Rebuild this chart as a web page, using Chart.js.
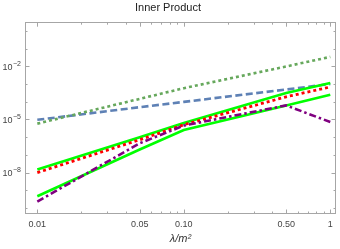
<!DOCTYPE html>
<html>
<head>
<meta charset="utf-8">
<script src="https://cdn.jsdelivr.net/npm/chart.js@4/dist/chart.umd.min.js"></script>
<style>
html, body { margin: 0; padding: 0; background: #fff; }
#wrap { width: 340px; height: 249px; }
</style>
</head>
<body>
<div id="wrap"><canvas id="inner-chart"></canvas></div>
<script>
// Data
var lambdas = [0.01, 0.05, 0.1, 0.5, 1];
var purpleDashDot = [2.3e-10, 4.5e-7, 4.5e-6, 6.2e-5, 7.1e-6];
var redDotted = [1.0e-8, 7.1e-7, 5.0e-6, 1.9e-4, 6.8e-4];
var greenUpper = [1.5e-8, 1.0e-6, 6.2e-6, 3.1e-4, 1.15e-3];
var greenLower = [4.6e-10, 2.0e-7, 2.5e-6, 6.2e-5, 2.5e-4];
var greenDotted = [5.8e-6, 1.45e-4, 5.8e-4, 9.8e-3, 3.4e-2];
var blueDashed = [9.5e-6, 4.9e-5, 9.8e-5, 4.9e-4, 1.0e-3];

// Ticks
var xMajorTicks = [0.01, 0.05, 0.1, 0.5, 1];
var xTickLabels = ["0.01", "0.05", "0.10", "0.50", "1"];
var xMinorTicks = [0.02, 0.03, 0.04, 0.06, 0.07, 0.08, 0.09, 0.2, 0.3, 0.4, 0.6, 0.7, 0.8, 0.9];
var yTickValues = [1, 1e-1, 1e-2, 1e-3, 1e-4, 1e-5, 1e-6, 1e-7, 1e-8, 1e-9, 1e-10];
var yLabelledTicks = [1e-2, 1e-5, 1e-8];
var yTickExponents = ["\u22122", "\u22125", "\u22128"];

function pts(ys) {
  return lambdas.map(function (x, i) { return { x: x, y: ys[i] }; });
}

function findLabel(values, labels, v) {
  for (var i = 0; i < values.length; i++) {
    if (Math.abs(Math.log10(values[i]) - Math.log10(v)) < 1e-6) return labels[i];
  }
  return "";
}

var fontFamily = "'Liberation Sans', Arial, 'DejaVu Sans', sans-serif";

// frame with inward ticks on all four sides, plus 10^n labels with a real raised exponent
var frameTicks = {
  id: "frameTicks",
  afterDraw: function (chart) {
    var ctx = chart.ctx, a = chart.chartArea;
    var xs = chart.scales.x, ys = chart.scales.y;
    ctx.save();
    ctx.strokeStyle = "#a6a6a6";
    ctx.lineWidth = 1;
    ctx.strokeRect(Math.round(a.left) + 0.5, Math.round(a.top) + 0.5,
      Math.round(a.right) - Math.round(a.left) - 1, Math.round(a.bottom) - Math.round(a.top) - 1);
    ctx.beginPath();
    function xTick(v, len) {
      var px = Math.round(xs.getPixelForValue(v)) + 0.5;
      ctx.moveTo(px, a.bottom); ctx.lineTo(px, a.bottom - len);
      ctx.moveTo(px, a.top); ctx.lineTo(px, a.top + len);
    }
    function yTick(v, len) {
      var py = Math.round(ys.getPixelForValue(v)) + 0.5;
      ctx.moveTo(a.left, py); ctx.lineTo(a.left + len, py);
      ctx.moveTo(a.right, py); ctx.lineTo(a.right - len, py);
    }
    xMajorTicks.forEach(function (v) { xTick(v, 4.5); });
    xMinorTicks.forEach(function (v) { xTick(v, 2.5); });
    yTickValues.forEach(function (v) {
      yTick(v, yLabelledTicks.indexOf(v) >= 0 ? 4.5 : 2.5);
    });
    ctx.stroke();

    ctx.fillStyle = "#444";
    ctx.textAlign = "right";
    ctx.textBaseline = "middle";
    yLabelledTicks.forEach(function (v, i) {
      var py = ys.getPixelForValue(v);
      var xr = a.left - 4;
      ctx.font = "7px " + fontFamily;
      var wExp = ctx.measureText(yTickExponents[i]).width;
      ctx.fillText(yTickExponents[i], xr, py - 2.5);
      ctx.font = "9px " + fontFamily;
      ctx.fillText("10", xr - wExp - 0.5, py + 1);
    });
    ctx.restore();
  }
};

var ctx = document.getElementById("inner-chart").getContext("2d");
var myChart = new Chart(ctx, {
  type: "line",
  data: {
    datasets: [
      { label: "purple", data: pts(purpleDashDot), borderColor: "#800080", borderWidth: 2.6, borderDash: [7, 3, 2.5, 3] },
      { label: "red", data: pts(redDotted), borderColor: "#ff0000", borderWidth: 2.8, borderDash: [3, 3] },
      { label: "green1", data: pts(greenUpper), borderColor: "#00ff00", borderWidth: 2.6 },
      { label: "green2", data: pts(greenLower), borderColor: "#00ff00", borderWidth: 2.6 },
      { label: "greenDot", data: pts(greenDotted), borderColor: "#66a85c", borderWidth: 2.6, borderDash: [3, 3] },
      { label: "blue", data: pts(blueDashed), borderColor: "#5e81b5", borderWidth: 2.6, borderDash: [7, 3.5] }
    ]
  },
  options: {
    responsive: true,
    maintainAspectRatio: false,
    animation: false,
    events: [],
    layout: { padding: { left: 0, right: 4, top: 0, bottom: 0 } },
    elements: { point: { radius: 0 }, line: { tension: 0, fill: false } },
    plugins: {
      legend: { display: false },
      tooltip: { enabled: false },
      title: {
        display: true,
        text: "Inner Product",
        color: "#222",
        font: { family: fontFamily, size: 11, weight: "normal" },
        padding: { top: 1, bottom: 8 }
      }
    },
    scales: {
      x: {
        type: "logarithmic",
        min: 0.00824,
        max: 1.094,
        grid: { display: false, drawTicks: false },
        border: { display: false },
        afterBuildTicks: function (scale) {
          scale.ticks = xMajorTicks.map(function (v) { return { value: v }; });
        },
        afterFit: function (scale) { scale.height = 35; },
        ticks: {
          autoSkip: false,
          maxRotation: 0,
          padding: 5,
          color: "#444",
          font: { family: fontFamily, size: 9 },
          callback: function (v) { return findLabel(xMajorTicks, xTickLabels, v); }
        },
        title: {
          display: true,
          text: "\u03BB/m\u00B2",
          color: "#333",
          font: { family: fontFamily, size: 11, style: "italic" },
          padding: { top: 0, bottom: 3 }
        }
      },
      y: {
        type: "logarithmic",
        min: 4.57e-11,
        max: 3.09,
        grid: { display: false, drawTicks: false },
        border: { display: false },
        afterBuildTicks: function (scale) {
          scale.ticks = yTickValues.map(function (v) { return { value: v }; });
        },
        afterFit: function (scale) { scale.width = 25; },
        ticks: { display: false }
      }
    }
  },
  plugins: [frameTicks]
});
</script>
</body>
</html>
